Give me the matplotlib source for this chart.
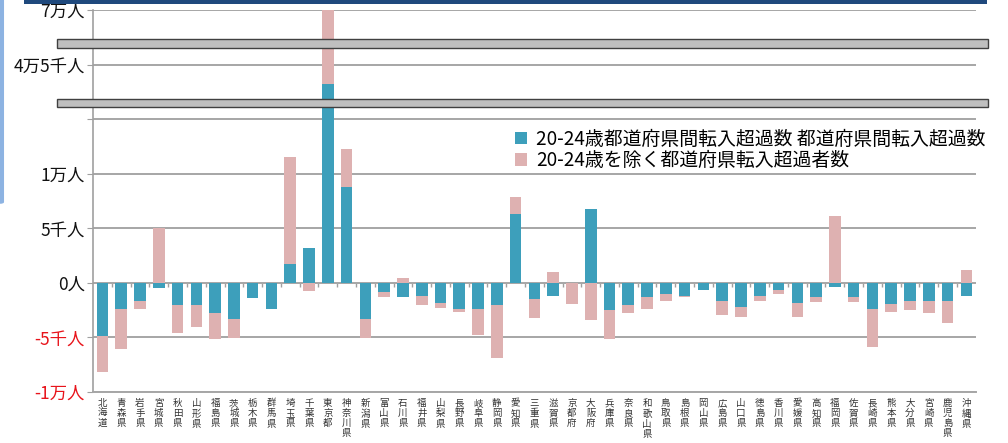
import matplotlib
matplotlib.use("Agg")
import matplotlib.pyplot as plt
import numpy as np
from matplotlib.patches import Rectangle, FancyBboxPatch

plt.rcParams['font.family'] = ['Noto Sans CJK JP', 'DejaVu Sans']

prefs = ['北海道', '青森県', '岩手県', '宮城県', '秋田県', '山形県', '福島県', '茨城県', '栃木県', '群馬県',
         '埼玉県', '千葉県', '東京都', '神奈川県', '新潟県', '富山県', '石川県', '福井県', '山梨県', '長野県',
         '岐阜県', '静岡県', '愛知県', '三重県', '滋賀県', '京都府', '大阪府', '兵庫県', '奈良県', '和歌山県',
         '鳥取県', '島根県', '岡山県', '広島県', '山口県', '徳島県', '香川県', '愛媛県', '高知県', '福岡県',
         '佐賀県', '長崎県', '熊本県', '大分県', '宮崎県', '鹿児島県', '沖縄県']

# 20-24歳の転入超過数
age2024 = np.array([-4900, -2350, -1620, -430, -2040, -2040, -2770, -3290, -1400, -2410,
                    1700, 3230, 34300, 8810, -3350, -850, -1280, -1190, -1800, -2350,
                    -2350, -2040, 6340, -1460, -1160, 0, 6770, -2500, -2040, -1310,
                    -1000, -1160, -610, -1680, -2230, -1190, -670, -1830, -1250, -340,
                    -1250, -2350, -1980, -1620, -1620, -1680, -1220])
# 20-24歳を除く転入超過数
others = np.array([-3300, -3700, -760, 5030, -2530, -1980, -2410, -1800, 0, 0,
                   9800, -790, 35700, 3440, -1740, -460, 460, -850, -490, -330,
                   -2440, -4880, 1530, -1740, 980, -1920, -3410, -2680, -700, -1130,
                   -680, -180, 0, -1220, -910, -490, -310, -1310, -490, 6100,
                   -490, -3530, -670, -910, -1120, -1980, 1220])

ytick_vals = [-10000, -5000, 0, 5000, 10000, 15000, 45000, 70000]
ytick_labels = ['-1万人', '-5千人', '0人', '5千人', '1万人', '', '4万5千人', '7万人']

teal = '#3d9fbb'
pink = '#deb1b1'


def fwd(v):
    v = np.asarray(v, dtype=float)
    return np.where(v <= 15000, v,
                    np.where(v <= 45000, 15000 + (v - 15000) / 6.0,
                             20000 + (v - 45000) / 5.0))


def inv(p):
    p = np.asarray(p, dtype=float)
    return np.where(p <= 15000, p,
                    np.where(p <= 20000, 15000 + (p - 15000) * 6.0,
                             45000 + (p - 20000) * 5.0))


fig = plt.figure(figsize=(10.08, 4.43), dpi=100)
ax = fig.add_axes([0.0923, 0.1151, 0.8757, 0.8623])
ax.set_yscale('function', functions=(fwd, inv))

x = np.arange(len(prefs))
same = np.sign(others) == np.sign(age2024)
bottom = np.where(same, age2024, 0)
ax.bar(x, age2024, width=0.62, color=teal, zorder=3,
       label='20-24歳都道府県間転入超過数 都道府県間転入超過数')
ax.bar(x, others, width=0.62, bottom=bottom, color=pink, zorder=3,
       label='20-24歳を除く都道府県転入超過者数')

ax.set_xlim(-0.5, len(prefs) - 0.5)
ax.set_ylim(-10000, 70000)
ax.set_yticks(ytick_vals, ytick_labels, fontsize=12.5)
ax.tick_params(axis='y', length=4, color='#a0a0a0', pad=2)
for tk, v in zip(ax.yaxis.get_major_ticks(), ytick_vals):
    tk.label1.set_color('#e8141b' if v < 0 else '#111111')
ax.yaxis.grid(True, color='#a6a6a6', linewidth=1.4, zorder=0)
ax.set_axisbelow(True)

ax.set_xticks(x, ['\n'.join(p) for p in prefs], fontsize=6.8, linespacing=1.15, va='top')
ax.tick_params(axis='x', length=0, pad=5, labelcolor='#333333')

for s in ['top', 'right']:
    ax.spines[s].set_visible(False)
ax.spines['left'].set_color('#a0a0a0')
ax.spines['bottom'].set_color('#a6a6a6')
ax.spines['left'].set_linewidth(1.2)
ax.spines['bottom'].set_linewidth(1.4)

# small ticks between categories on the zero line
zero_pos = (fwd(0) - fwd(-10000)) / (fwd(70000) - fwd(-10000))
sec = ax.secondary_xaxis(float(zero_pos))
sec.set_xticks(x[:-1] + 0.5)
sec.set_xticklabels([])
sec.tick_params(length=3, color='#a0a0a0', width=1)
sec.spines['bottom'].set_visible(False)
sec.spines['top'].set_visible(False)

ax.legend(loc='upper left', bbox_to_anchor=(0.503, 0.727), bbox_transform=fig.transFigure,
          frameon=False, fontsize=13.6, handlelength=0.65, handleheight=0.65,
          handletextpad=0.5, labelspacing=0.02, borderaxespad=0)

# axis break bars
for yb, h in [(0.8916, 0.0203), (0.7585, 0.0181)]:
    fig.add_artist(Rectangle((0.0565, yb), 0.9236, h, transform=fig.transFigure,
                             facecolor='#bfbfbf', edgecolor='#404040', linewidth=1, zorder=10))

# header bar and side strip
fig.add_artist(Rectangle((0.0238, 0.991), 0.955, 0.009, transform=fig.transFigure,
                         facecolor='#1f497d', edgecolor='none', zorder=10))
fig.add_artist(FancyBboxPatch((-0.01, 0.54), 0.014, 0.47, boxstyle='round,pad=0,rounding_size=0.004',
                              transform=fig.transFigure, facecolor='#8db3e2', edgecolor='none', zorder=10))

fig.savefig('out.png', dpi=100)
